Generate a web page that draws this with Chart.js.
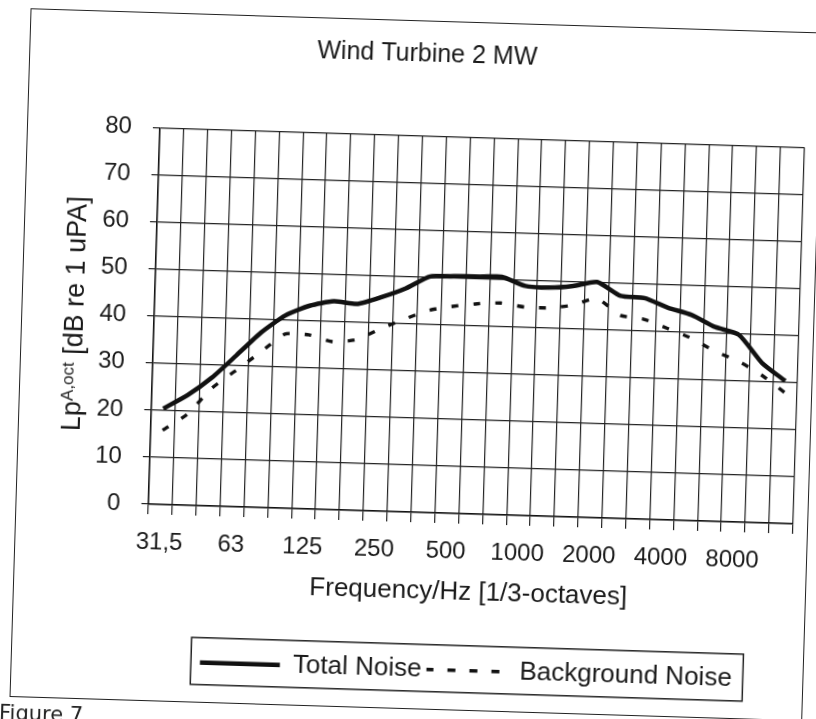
<!DOCTYPE html>
<html>
<head>
<meta charset="utf-8">
<title>Wind Turbine 2 MW</title>
<script src="https://cdn.jsdelivr.net/npm/chart.js@4"></script>
<style>
  html, body { margin: 0; padding: 0; background: #fff; overflow: hidden; }
  #page {
    position: relative; width: 816px; height: 719px;
    transform: rotate(1.75deg); transform-origin: 408px 360px;
  }
  #frame {
    position: absolute; left: 19.5px; top: 19.5px; width: 793px; height: 689px;
    box-sizing: border-box; border: 1.5px solid #222;
  }
  #chart { position: absolute; left: 0; top: 0; }
  #fig {
    position: absolute; left: 10px; top: 713px;
    font: 21px "DejaVu Sans", sans-serif; color: #222;
  }
</style>
</head>
<body>
<div id="page">
  <div id="frame"></div>
  <canvas id="chart" width="816" height="719"></canvas>
  <div id="fig">Figure 7</div>
</div>
<script>
// 1/3-octave band centre frequencies (only every third one is labelled)
const bands = ['31,5', '40', '50', '63', '80', '100', '125', '160', '200', '250', '315', '400',
  '500', '630', '800', '1000', '1250', '1600', '2000', '2500', '3150', '4000', '5000', '6300',
  '8000', '10000', '12500'];

// levels, dB
const totalNoise = [20.4, 23.4, 27.3, 32.2, 37.2, 41.0, 43.2, 44.3, 43.9, 45.5, 47.5, 50.2,
  50.4, 50.5, 50.6, 48.8, 48.6, 49.1, 50.1, 47.3, 47.0, 45.1, 43.7, 41.3, 39.8, 34.0, 30.3];
const backgroundNoise = [15.8, 19.3, 25.0, 29.0, 33.0, 37.0, 37.0, 35.7, 36.3, 38.8, 41.0, 43.0,
  44.0, 44.7, 45.0, 44.3, 44.3, 45.0, 46.6, 43.2, 42.5, 40.7, 38.8, 36.2, 34.2, 31.4, 27.8];

const yTicks = [0, 10, 20, 30, 40, 50, 60, 70, 80];

const chartTitle = 'Wind Turbine 2 MW';
const xTitle = 'Frequency/Hz [1/3-octaves]';
const yTitleMain = 'Lp';
const yTitleSub = 'A,oct';
const yTitleUnit = ' [dB re 1 uPA]';

const FONT = '"Liberation Sans", Arial, sans-serif';
const INK = '#1a1a1a';

// y axis title has a small part, so it is drawn by hand
const yTitlePlugin = {
  id: 'yTitle',
  afterDraw(chart) {
    const { ctx, chartArea } = chart;
    ctx.save();
    ctx.translate(82, (chartArea.top + chartArea.bottom) / 2);
    ctx.rotate(-Math.PI / 2);
    ctx.fillStyle = INK;
    ctx.textBaseline = 'alphabetic';
    const big = '27px ' + FONT;
    const small = '17px ' + FONT;
    ctx.font = big;
    const w1 = ctx.measureText(yTitleMain).width;
    const w3 = ctx.measureText(yTitleUnit).width;
    ctx.font = small;
    const w2 = ctx.measureText(yTitleSub).width;
    let x = -(w1 + w2 + w3) / 2;
    ctx.font = big;
    ctx.fillText(yTitleMain, x, 0);
    x += w1;
    ctx.font = small;
    ctx.fillText(yTitleSub, x, -8);
    x += w2;
    ctx.font = big;
    ctx.fillText(yTitleUnit, x, 0);
    ctx.restore();
  }
};

// move title and legend so they sit like in the excel chart, and box the legend
const placePlugin = {
  id: 'place',
  afterLayout(chart) {
    const area = chart.chartArea;
    const t = chart.titleBlock;
    if (t) {
      const d = 418 - (t.left + t.right) / 2;
      t.left += d; t.right += d;
    }
    const lg = chart.legend;
    if (lg) {
      const d = (area.left + area.right) / 2 - (lg.left + lg.right) / 2;
      lg.left += d; lg.right += d;
    }
  },
  afterDraw(chart) {
    const lg = chart.legend;
    if (!lg || !lg.lineWidths) return;
    const pad = lg.options.labels.padding;
    const rowW = lg.lineWidths[0];
    const rowLeft = (lg.left + pad + lg.right - rowW) / 2;
    const ctx = chart.ctx;
    ctx.save();
    ctx.strokeStyle = '#222';
    ctx.lineWidth = 1.5;
    ctx.strokeRect(rowLeft - 9, lg.top + pad - 12, rowW - pad + 20, 47);
    ctx.restore();
  }
};

new Chart(document.getElementById('chart'), {
  type: 'line',
  data: {
    labels: bands,
    datasets: [
      {
        label: 'Total Noise',
        data: totalNoise,
        borderColor: '#111',
        backgroundColor: '#111',
        borderWidth: 4.5,
        pointRadius: 0,
        tension: 0.2,
        fill: false
      },
      {
        label: 'Background Noise',
        data: backgroundNoise,
        borderColor: '#111',
        backgroundColor: '#111',
        borderWidth: 3.4,
        borderDash: [7, 15],
        pointRadius: 0,
        tension: 0.2,
        fill: false
      }
    ]
  },
  options: {
    responsive: false,
    animation: false,
    devicePixelRatio: 1,
    layout: { padding: { left: 20, right: 18.3, top: 20, bottom: 27.2 } },
    plugins: {
      title: {
        display: true,
        text: chartTitle,
        color: INK,
        font: { family: FONT, size: 25, weight: 'normal' },
        padding: { top: 19.4, bottom: 66.2 }
      },
      legend: {
        position: 'bottom',
        labels: {
          color: INK,
          font: { family: FONT, size: 26 },
          boxWidth: 80,
          boxHeight: 0,
          padding: 5
        }
      },
      tooltip: { enabled: false }
    },
    scales: {
      x: {
        type: 'category',
        offset: true,
        afterFit: (s) => { s.height = 138.8; },
        grid: { offset: true, color: '#222', lineWidth: 1.2, tickLength: 10 },
        border: { color: '#111', width: 1.5 },
        ticks: {
          autoSkip: false,
          maxRotation: 0,
          padding: 14,
          color: INK,
          font: { family: FONT, size: 24 },
          callback: (val, i) => (i % 3 === 0 ? bands[i] : '')
        },
        title: {
          display: true,
          text: xTitle,
          color: INK,
          font: { family: FONT, size: 26 },
          padding: { top: 0, bottom: 43.9 }
        }
      },
      y: {
        min: yTicks[0],
        max: yTicks[yTicks.length - 1],
        afterFit: (s) => { s.width = 132.9; },
        afterBuildTicks: (s) => { s.ticks = yTicks.map(v => ({ value: v })); },
        grid: { color: '#222', lineWidth: 1.2, tickLength: 7 },
        border: { color: '#111', width: 1.5 },
        ticks: {
          padding: 21,
          color: INK,
          font: { family: FONT, size: 24 }
        }
      }
    }
  },
  plugins: [yTitlePlugin, placePlugin]
});
</script>
</body>
</html>
